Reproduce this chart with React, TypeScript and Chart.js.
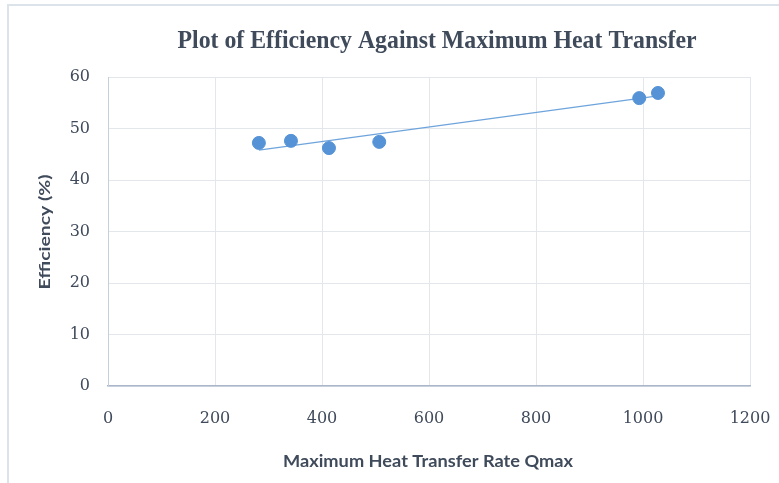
import React, { useEffect, useRef } from "react";
import { Chart, registerables } from "chart.js";

Chart.register(...registerables);

// Data
const qmax = [282, 342, 413, 507, 993, 1028];
const efficiency = [47.2, 47.6, 46.2, 47.4, 55.9, 56.9];

const chartTitle = "Plot of Efficiency Against Maximum Heat Transfer";
const xTitle = "Maximum Heat Transfer Rate Qmax";
const yTitle = "Efficiency (%)";

const xMin = 0, xMax = 1200, xStep = 200;
const yMin = 0, yMax = 60, yStep = 10;

// Linear trendline (least squares) over the data range
function trend(xs: number[], ys: number[]) {
  const n = xs.length;
  const mx = xs.reduce((a, b) => a + b, 0) / n;
  const my = ys.reduce((a, b) => a + b, 0) / n;
  let sxy = 0, sxx = 0;
  for (let i = 0; i < n; i++) {
    sxy += (xs[i] - mx) * (ys[i] - my);
    sxx += (xs[i] - mx) * (xs[i] - mx);
  }
  const m = sxy / sxx;
  const b = my - m * mx;
  const lo = Math.min(...xs), hi = Math.max(...xs);
  return [{ x: lo, y: m * lo + b }, { x: hi, y: m * hi + b }];
}

const TEXT = "#3f4a5b";
const BLUE = "#5592d6";

function drawFitted(ctx: CanvasRenderingContext2D, text: string, x: number, y: number, width: number, font: string, rotate = 0) {
  ctx.save();
  ctx.font = font;
  ctx.fillStyle = TEXT;
  ctx.textAlign = "center";
  ctx.textBaseline = "middle";
  const w = ctx.measureText(text).width;
  ctx.translate(x, y);
  if (rotate) ctx.rotate(rotate);
  ctx.scale(width / w, 1);
  ctx.fillText(text, 0, 0);
  ctx.restore();
}

const decor = {
  id: "decor",
  afterDraw(chart: any) {
    const ctx = chart.ctx as CanvasRenderingContext2D;
    // outer frame lines (top & left)
    ctx.save();
    ctx.strokeStyle = "#dde3ea";
    ctx.lineWidth = 2;
    ctx.beginPath();
    ctx.moveTo(8, 483);
    ctx.lineTo(8, 5);
    ctx.lineTo(779, 5);
    ctx.stroke();
    ctx.restore();

    drawFitted(ctx, chartTitle, 437, 42, 519, "bold 25px 'Liberation Serif'");
    drawFitted(ctx, xTitle, 428, 462, 290, "bold 17px 'Lato'");
    drawFitted(ctx, yTitle, 45, 232, 115, "bold 16px 'Lato'", -Math.PI / 2);
  },
};

export default function App() {
  const ref = useRef<HTMLCanvasElement | null>(null);

  useEffect(() => {
    if (!ref.current) return;
    const chart = new Chart(ref.current, {
      type: "scatter",
      data: {
        datasets: [
          {
            label: "Efficiency",
            data: qmax.map((x, i) => ({ x, y: efficiency[i] })),
            backgroundColor: BLUE,
            borderColor: BLUE,
            pointRadius: 6.5,
            pointHoverRadius: 6.5,
            order: 1,
          },
          {
            label: "Trend",
            type: "line",
            data: trend(qmax, efficiency),
            borderColor: "#6ea4dc",
            borderWidth: 1.2,
            pointRadius: 0,
            fill: false,
            order: 2,
          } as any,
        ],
      },
      options: {
        responsive: false,
        animation: false,
        layout: { padding: { top: 77, right: 29, left: 0, bottom: 0 } },
        plugins: {
          legend: { display: false },
          title: { display: false },
          tooltip: { enabled: false },
        },
        scales: {
          x: {
            type: "linear",
            min: xMin,
            max: xMax,
            ticks: {
              stepSize: xStep,
              padding: 23,
              color: TEXT,
              font: { family: "'DejaVu Serif'", size: 16 },
              maxRotation: 0,
              callback: (v: any) => String(v),
            },
            grid: { color: "#e3e7ec", drawTicks: false, lineWidth: 1 },
            border: { color: "#aab7ca", width: 1.5 },
            afterFit: (s: any) => { s.height = 97; s.paddingLeft = 0; s.paddingRight = 0; },
          },
          y: {
            type: "linear",
            min: yMin,
            max: yMax,
            ticks: {
              stepSize: yStep,
              padding: 18,
              color: TEXT,
              font: { family: "'DejaVu Serif'", size: 16 },
              callback: (v: any) => String(v),
            },
            grid: { color: "#e3e7ec", drawTicks: false, lineWidth: 1 },
            border: { color: "#c5cfdc", width: 1 },
            afterFit: (s: any) => { s.width = 108; s.paddingTop = 0; s.paddingBottom = 0; },
          },
        },
      },
      plugins: [decor],
    });
    return () => chart.destroy();
  }, []);

  return (
    <div style={{ position: "absolute", left: 0, top: 0, width: 779, height: 483, background: "#fff" }}>
      <canvas ref={ref} width={779} height={483} style={{ display: "block" }} />
    </div>
  );
}
